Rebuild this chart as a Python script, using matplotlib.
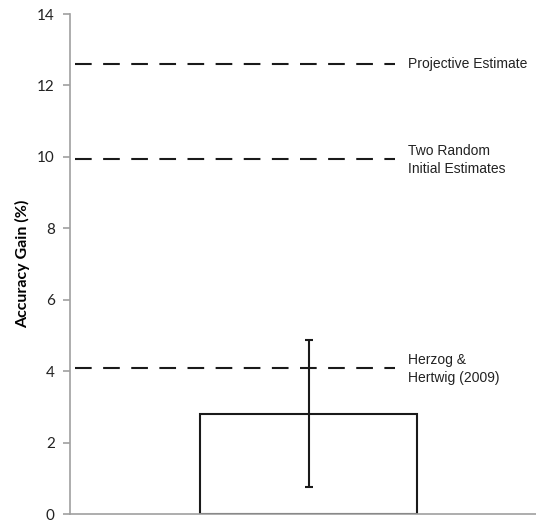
import matplotlib.pyplot as plt

# data
bar_value = 2.8
err_low = 0.75
err_high = 4.87
ref_values = [12.6, 9.95, 4.1]
ref_labels = ['Projective Estimate', 'Two Random\nInitial Estimates', 'Herzog &\nHertwig (2009)']
yticks = [0, 2, 4, 6, 8, 10, 12, 14]

fig = plt.figure(figsize=(5.36, 5.21), dpi=100)
ax = fig.add_axes([70 / 536, 7 / 521, 466 / 536, 500 / 521])

ax.bar([0.512], [bar_value], width=0.466, facecolor='white', edgecolor='#1a1a1a', linewidth=1.5, zorder=2)
ax.errorbar([0.512], [bar_value],
            yerr=[[bar_value - err_low], [err_high - bar_value]],
            fmt='none', ecolor='#1a1a1a', elinewidth=1.5, capsize=3, capthick=1.5, zorder=3)

for val, lab in zip(ref_values, ref_labels):
    ax.axhline(val, xmin=0.011, xmax=0.697, color='#1a1a1a', linewidth=1.5,
               linestyle=(0, (8, 5.5)), zorder=1)
    two_line = '\n' in lab
    ax.text(0.725, val + (0.4 if two_line else 0), lab,
            va='top' if two_line else 'center', linespacing=1.3,
            fontsize=10, family='Liberation Sans', color='#222222',
            transform=ax.get_yaxis_transform())

ax.set_xlim(0, 1)
ax.set_ylim(0, 14)
ax.set_yticks(yticks)
ax.set_yticklabels([str(v) for v in yticks], family='Lato', fontsize=11, color='#222222')
ax.set_xticks([])
ax.set_ylabel('Accuracy Gain (%)', family='Lato', fontsize=11.5, fontweight='bold', labelpad=5)

for s in ['top', 'right']:
    ax.spines[s].set_visible(False)
for s in ['left', 'bottom']:
    ax.spines[s].set_color('#a0a0a0')
    ax.spines[s].set_linewidth(1.2)
ax.tick_params(axis='y', direction='out', length=5, width=1.2, color='#a0a0a0', pad=6)

fig.savefig('out.png', dpi=100)
